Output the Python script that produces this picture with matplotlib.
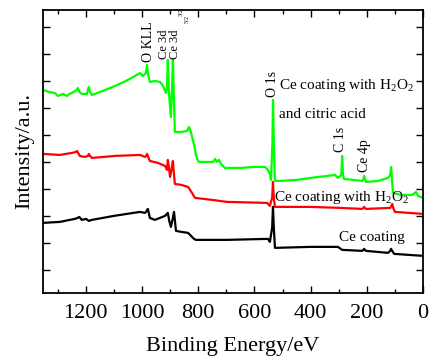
import matplotlib
matplotlib.use("Agg")
import matplotlib.pyplot as plt
from matplotlib.ticker import MultipleLocator, FixedLocator, NullFormatter

plt.rcParams['font.family'] = ['Liberation Serif', 'DejaVu Serif']
plt.rcParams['mathtext.fontset'] = 'custom'
plt.rcParams['mathtext.rm'] = 'Liberation Serif'
plt.rcParams['mathtext.it'] = 'Liberation Serif:italic'

# Binding energy (eV) and intensity (a.u.) for each spectrum
green_E = [1352, 1330, 1310, 1299, 1290, 1281, 1267, 1258, 1249, 1232, 1228, 1222, 1214, 1196, 1192,
           1189, 1185, 1178, 1140, 1096, 1050, 1007, 997, 986, 982, 978, 972, 954, 936, 925, 915, 911,
           908, 904, 897, 893, 890, 886, 883, 860, 840, 833, 826, 819, 813, 808, 802, 797, 770, 747, 740,
           733, 726, 719, 712, 705, 650, 600, 562, 552, 545, 541, 536, 534, 531, 527, 509, 450, 400, 313,
           303, 291, 288, 285, 281, 217, 212, 210, 207, 203, 160, 125, 117, 114, 110, 107, 80, 39, 25, 18, 0]
green_I = [203, 201, 200, 197, 198, 199, 197, 199, 200, 203, 205, 201, 199, 199, 203,
           206, 201, 198, 202, 207, 213, 220, 217, 220, 228, 218, 211, 212, 211, 207, 200, 205,
           233, 200, 176, 205, 233, 190, 161, 161, 162, 166, 161, 153, 146, 138, 133, 131, 131, 131, 134,
           131, 133, 129, 127, 125, 125, 126, 126, 123, 119, 113, 150, 193, 150, 112, 112, 113, 115, 118,
           115, 118, 137, 118, 114, 112, 114, 117, 114, 111, 112, 115, 118, 126, 110, 100, 98, 98, 101, 97, 95]

red_E = [1352, 1292, 1249, 1235, 1231, 1227, 1221, 1203, 1192, 1189, 1185, 1178, 1096, 1007, 989, 985,
         982, 979, 972, 943, 918, 911, 908, 904, 900, 894, 890, 886, 883, 860, 836, 829, 822, 816, 811,
         750, 698, 555, 545, 537, 534, 531, 527, 400, 295, 217, 212, 210, 207, 203, 117, 113, 110, 105,
         100, 0]
red_I = [139, 138, 140, 141, 142, 140, 137, 136, 137, 139, 137, 135, 137, 138, 136, 137,
         139, 137, 132, 130, 127, 123, 133, 125, 116, 125, 132, 118, 109, 108, 106, 103, 100, 97, 95,
         93, 91, 90, 87, 95, 111, 95, 86, 86, 85, 84, 85, 86, 85, 84, 85, 87, 89, 84,
         81, 79]

black_E = [1352, 1292, 1239, 1228, 1224, 1220, 1214, 1199, 1189, 1178, 1100, 1007, 989, 983, 979, 975,
           972, 954, 918, 908, 903, 897, 890, 886, 882, 879, 860, 836, 829, 822, 815, 808, 700, 552, 545,
           537, 534, 531, 527, 400, 303, 288, 217, 212, 210, 207, 203, 125, 117, 114, 110, 103, 0]
black_I = [70, 71, 74, 75, 76, 75, 73, 74, 72, 73, 77, 81, 80, 82, 84, 79,
           75, 73, 77, 80, 72, 66, 75, 81, 70, 62, 61, 60, 58, 56, 54, 53, 53, 54, 51,
           65, 86, 65, 45, 46, 46, 43, 42, 43, 44, 43, 42, 40, 42, 44, 42, 39, 37]

x_ticks = [1200, 1000, 800, 600, 400, 200, 0]

fig = plt.figure(figsize=(4.30, 3.58), dpi=100)
ax = fig.add_axes([0.1, 0.182, 0.884, 0.79])

ax.plot(green_E, green_I, color='#00ff00', lw=1.6)
ax.plot(red_E, red_I, color='#ff0000', lw=1.6)
ax.plot(black_E, black_I, color='black', lw=1.6)

ax.set_xlim(1352, 0)
ax.set_ylim(0, 283)
ax.xaxis.set_major_locator(FixedLocator(x_ticks))
ax.xaxis.set_minor_locator(MultipleLocator(100))
ax.yaxis.set_major_locator(FixedLocator(list(range(23, 283, 27))))
ax.yaxis.set_major_formatter(NullFormatter())
ax.tick_params(which='both', direction='in', top=True, right=True, width=1)
ax.tick_params(which='major', length=5, labelsize=16, pad=8)
ax.tick_params(axis='y', which='major', pad=0)
ax.tick_params(which='minor', length=3)
for s in ax.spines.values():
    s.set_linewidth(1.3)

ax.set_xlabel('Binding Energy/eV', fontsize=16, labelpad=10)
ax.set_ylabel('Intensity/a.u.', fontsize=16, labelpad=6)

rot = dict(rotation=90, ha='center', va='bottom', fontsize=10)
ax.text(975, 231, 'O KLL', **rot)
ax.text(921, 234, 'Ce 3d', rotation=90, ha='center', va='bottom', fontsize=9)
ax.text(881, 234, 'Ce 3d', rotation=90, ha='center', va='bottom', fontsize=9)
ax.text(860, 277, '3/2', rotation=90, ha='center', va='bottom', fontsize=4.5)
ax.text(841, 270, '5/2', rotation=90, ha='center', va='bottom', fontsize=4.5)
ax.text(534, 196, 'O 1s', **rot)
ax.text(295, 141, 'C 1s', **rot)
ax.text(207, 121, 'Ce 4p', **rot)

ax.text(512, 207, r'Ce coating with H$_2$O$_2$', fontsize=11, va='center', ha='left')
ax.text(512, 178, 'and citric acid', fontsize=11, va='center', ha='left')
ax.text(532, 95, r'Ce coating with H$_2$O$_2$', fontsize=11, va='center', ha='left')
ax.text(300, 55, 'Ce coating', fontsize=11, va='center', ha='left')

fig.savefig('out.png', dpi=100)
